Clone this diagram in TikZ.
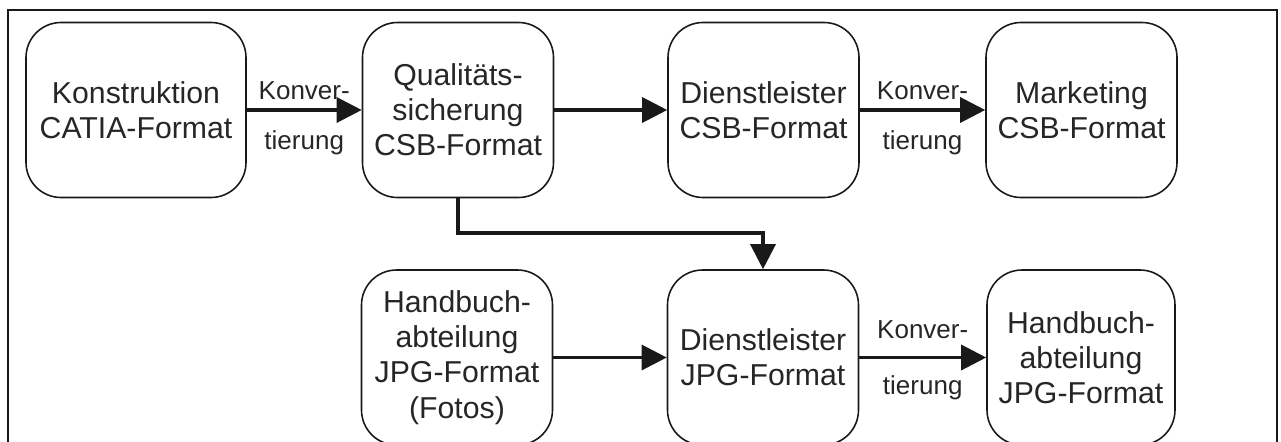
\documentclass[tikz,border=0pt]{standalone}
\usepackage{fontspec}
\setmainfont{Liberation Sans}
\usetikzlibrary{arrows.meta,positioning}

\begin{document}
\begin{tikzpicture}[
  stelle/.style={draw=black!90, line width=0.9pt, rounded corners=0.7cm, minimum width=3.82cm, minimum height=3.5cm, align=center, text=black!85, font=\fontsize{17.2}{20}\selectfont},
  arrow/.style={-{Triangle[length=0.5cm,width=0.5cm]}, line width=1.8pt, black!90},
  lbl/.style={font=\fontsize{14.8}{17}\selectfont, text=black!85, inner sep=0pt}
]
  \useasboundingbox (0,0) rectangle (25.62,8.82);
  \clip (0,0) rectangle (25.62,8.82);
  % Rahmen
  \draw[line width=1.2pt, black!90] (0.16,-1) rectangle (25.54,8.62);
  % obere Reihe
  \node[stelle, minimum width=4.4cm] (konstr) at (2.72,6.62) {Konstruktion\\CATIA-Format};
  \node[stelle] (qs) at (9.16,6.62) {Qualitäts-\\sicherung\\CSB-Format};
  \node[stelle] (dlcsb) at (15.27,6.62) {Dienstleister\\CSB-Format};
  \node[stelle] (mkt) at (21.63,6.62) {Marketing\\CSB-Format};
  % untere Reihe
  \node[stelle] (hbfoto) at (9.14,1.67) {Handbuch-\\abteilung\\JPG-Format\\(Fotos)};
  \node[stelle] (dljpg) at (15.26,1.67) {Dienstleister\\JPG-Format};
  \node[stelle, minimum width=3.76cm] (hbjpg) at (21.62,1.67) {Handbuch-\\abteilung\\JPG-Format};
  \coordinate (knick) at (9.16,4.16);
  \draw[arrow] (konstr) -- (qs) node[lbl,midway,yshift=0.38cm] {Konver-} node[lbl,midway,yshift=-0.66cm] {tierung};
  \draw[arrow] (qs) -- (dlcsb);
  \draw[arrow] (dlcsb) -- (mkt) node[lbl,midway,yshift=0.38cm] {Konver-} node[lbl,midway,yshift=-0.66cm] {tierung};
  \draw[arrow] (qs.south) -- (knick) -| (dljpg.north);
  \draw[arrow] (hbfoto) -- (dljpg);
  \draw[arrow] (dljpg) -- (hbjpg) node[lbl,midway,yshift=0.56cm] {Konver-} node[lbl,midway,yshift=-0.6cm] {tierung};
\end{tikzpicture}
\end{document}
